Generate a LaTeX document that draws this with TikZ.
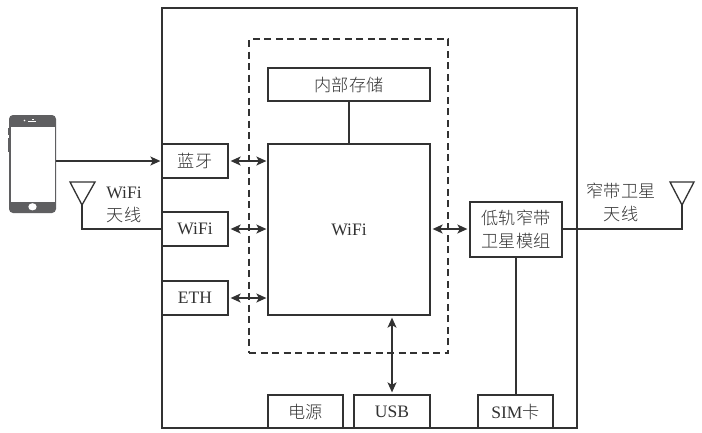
\documentclass[tikz,border=0pt]{standalone}
\usepackage{fontspec}
\setmainfont{Liberation Serif}
\newfontfamily\cjk{Noto Sans CJK SC Light}[Scale=0.98]
\usetikzlibrary{arrows.meta}
\definecolor{ink}{RGB}{50,50,50}
\definecolor{phonegray}{RGB}{95,95,97}
\tikzset{
  x=1pt,y=-1pt,
  blockbox/.style={draw=ink,line width=1.3pt,fill=white,inner sep=0pt,text=ink,align=center,font=\fontsize{17.5}{23}\selectfont},
  plainlabel/.style={inner sep=0pt,text=ink,align=center,font=\fontsize{17.5}{23}\selectfont},
  wire/.style={draw=ink,line width=1.3pt},
  arrowone/.style={wire,-{Stealth[length=10pt,width=9pt,inset=2.5pt]}},
  arrowtwo/.style={wire,{Stealth[length=10pt,width=9pt,inset=2.5pt]}-{Stealth[length=10pt,width=9pt,inset=2.5pt]}},
  antenna/.style={draw=ink,line width=1.3pt,line join=miter,fill=white},
}
\begin{document}
\begin{tikzpicture}
\useasboundingbox (0,0) rectangle (702,432);
\fill[white] (0,0) rectangle (702,432);
% outer
\node[blockbox,minimum width=415pt,minimum height=420pt] (outer) at (369.5,218) {};
\node[draw=ink,line width=1.3pt,dash pattern=on 7pt off 4.5pt,minimum width=199pt,minimum height=314pt,inner sep=0pt] (dash) at (348.5,196) {};
% boxes
\node[blockbox,minimum width=162pt,minimum height=33pt] (mem) at (349,84.5) {\cjk 内部存储};
\node[blockbox,minimum width=162pt,minimum height=171pt] (core) at (349,229.5) {WiFi};
\node[blockbox,minimum width=66pt,minimum height=34pt] (bt) at (195,161) {\cjk 蓝牙};
\node[blockbox,minimum width=66pt,minimum height=34pt] (wf) at (195,229) {WiFi};
\node[blockbox,minimum width=66pt,minimum height=34pt] (eth) at (195,298) {ETH};
\node[blockbox,minimum width=92pt,minimum height=55pt] (sat) at (516,229.5) {\cjk 低轨窄带\\\cjk 卫星模组};
\node[blockbox,minimum width=75pt,minimum height=33pt] (pwr) at (305.5,411.5) {\cjk 电源};
\node[blockbox,minimum width=76pt,minimum height=33pt] (usb) at (392,411.5) {USB};
\node[blockbox,minimum width=75pt,minimum height=33pt] (sim) at (515.5,411.5) {SIM{\cjk 卡}};
% labels
\node[plainlabel] (lwifi) at (124,205) {WiFi\\\cjk 天线};
\node[plainlabel] (lsat) at (621,202) {\cjk 窄带卫星\\\cjk 天线};
% phone
\node[draw=none,fill=phonegray,rounded corners=4pt,minimum width=47pt,minimum height=98pt,inner sep=0pt] (phone) at (32.5,164) {};
\fill[phonegray] (8.2,128) rectangle (9.5,135);
\fill[phonegray] (8.2,138) rectangle (9.5,152);
\fill[white] (11,126.5) rectangle (54.5,202);
\fill[white] (32.5,206.8) ellipse (4.2pt and 3.6pt);
\fill[white] (28,121) rectangle (36,122.2);
\fill[white] (31.5,118.5) rectangle (33.5,119.6);
\fill[white] (24.5,120.5) circle (0.8pt);
% antennas
\coordinate (antL) at (82,205);
\coordinate (antR) at (682,205);
\draw[antenna] (70,182) -- (95,182) -- (antL) -- cycle;
\draw[antenna] (670,182) -- (694,182) -- (antR) -- cycle;
% connectors
\draw[arrowone,shorten >=1pt] (phone.east |- bt.west) -- (bt.west);
\draw[wire] (antL) |- (wf.west);
\draw[wire] (sat.east |- wf.east) -| (antR);
\draw[wire] (mem.south) -- (core.north);
\draw[arrowtwo,shorten <=2pt,shorten >=1pt] (bt.east) -- (bt.east -| core.west);
\draw[arrowtwo,shorten <=2pt,shorten >=1pt] (wf.east) -- (wf.east -| core.west);
\draw[arrowtwo,shorten <=2pt,shorten >=1pt] (eth.east) -- (eth.east -| core.west);
\draw[arrowtwo,shorten <=2pt,shorten >=2pt] (core.east |- wf.east) -- (sat.west |- wf.east);
\draw[arrowtwo,shorten <=2pt,shorten >=2pt] (core.south -| usb.north) -- (usb.north);
\draw[wire] (sat.south) -- (sat.south |- sim.north);
\end{tikzpicture}
\end{document}
